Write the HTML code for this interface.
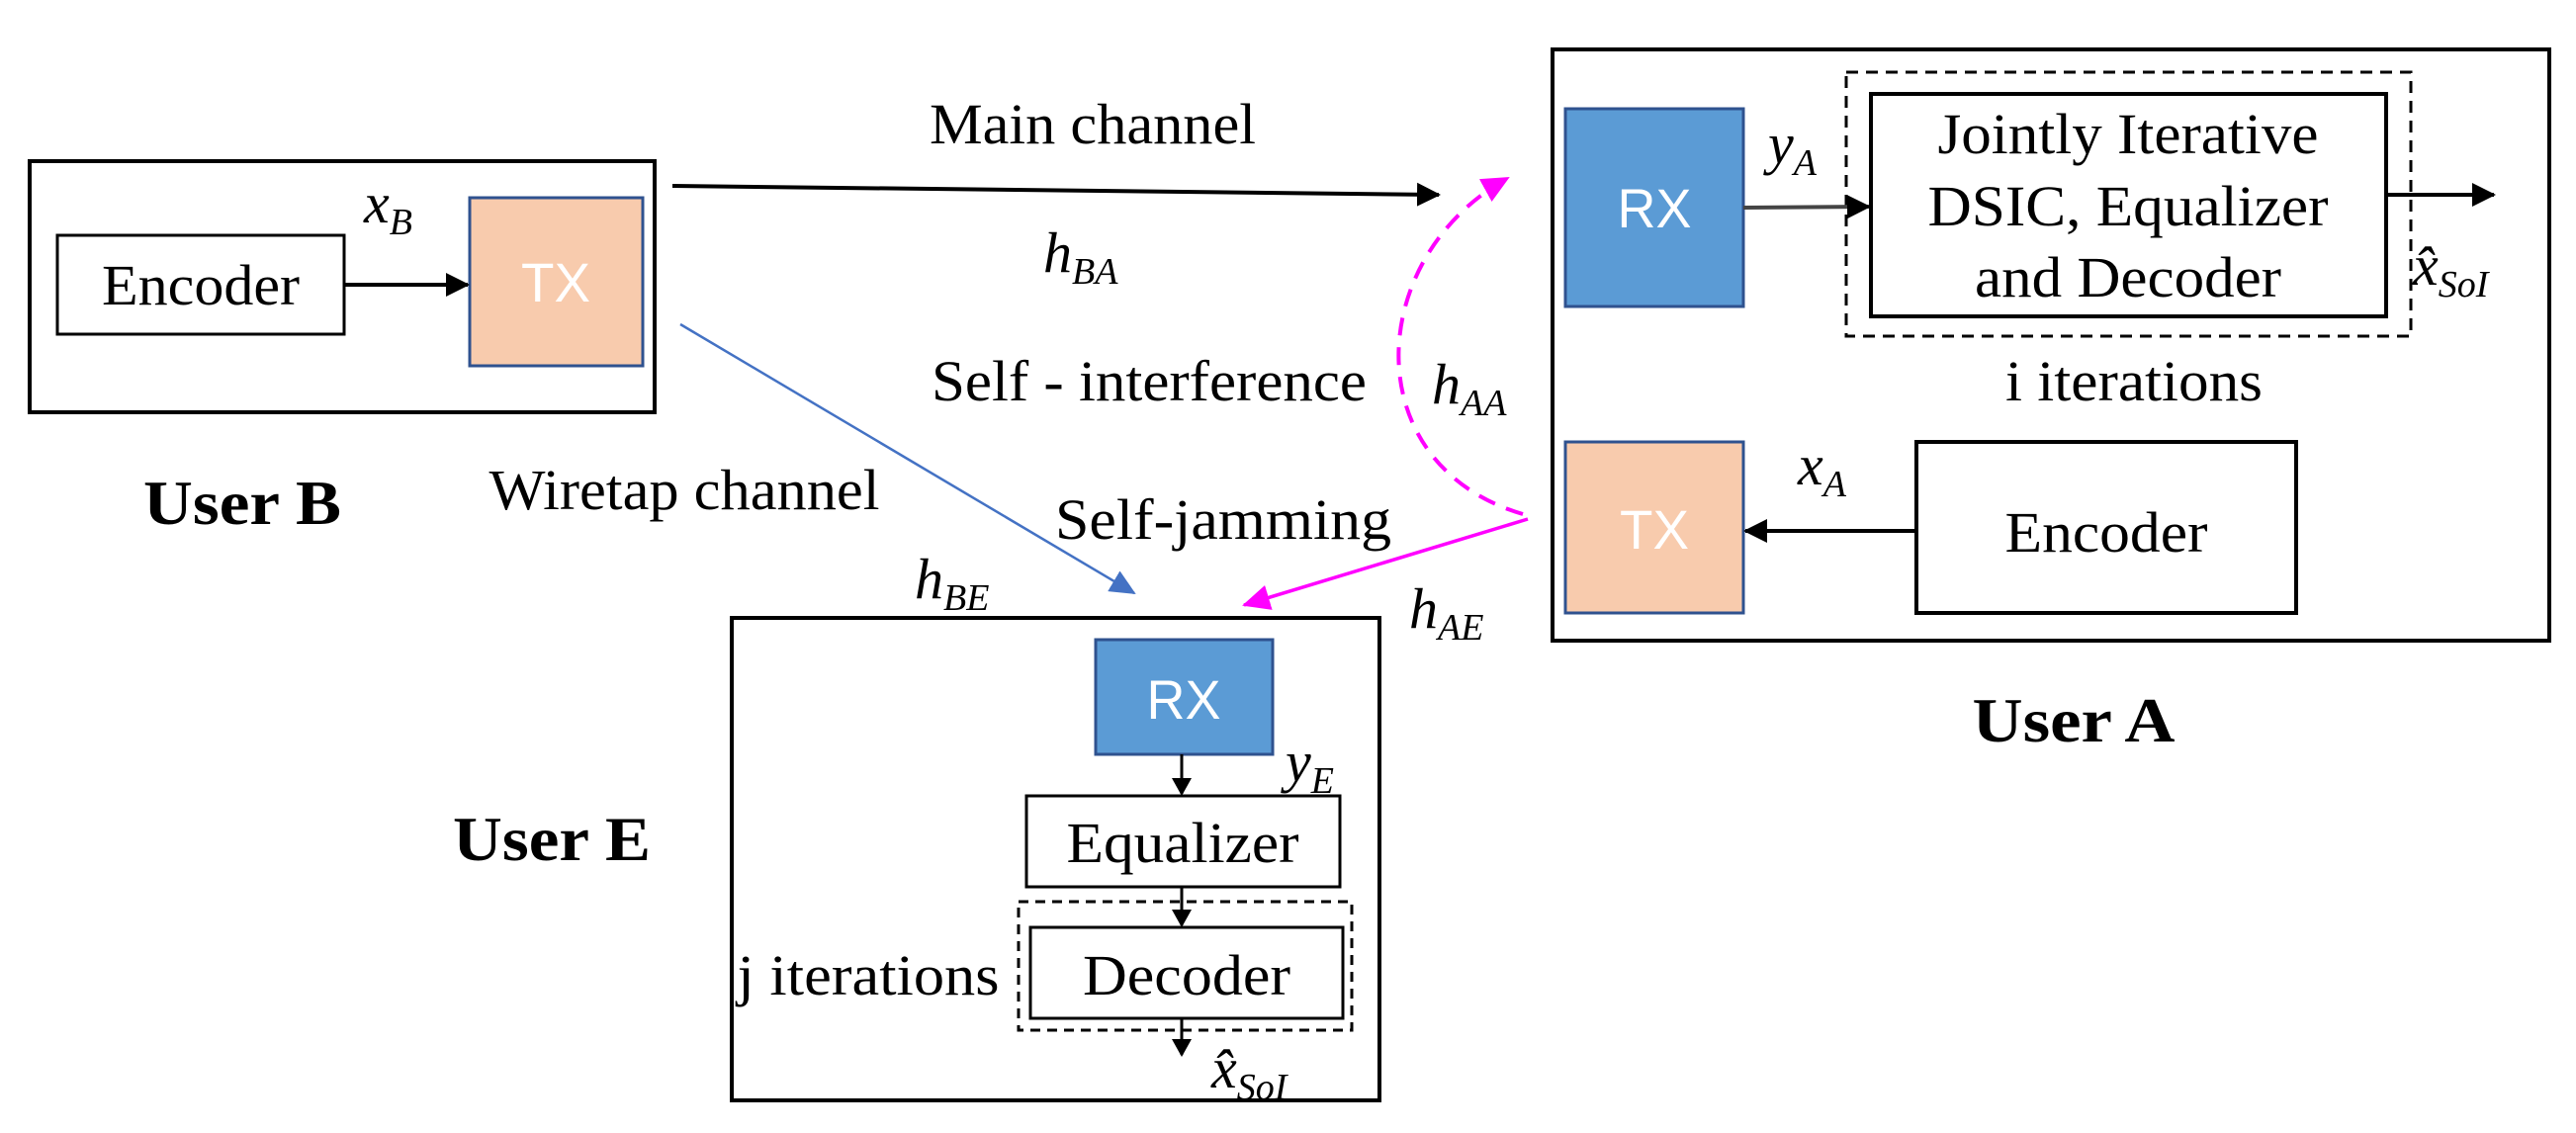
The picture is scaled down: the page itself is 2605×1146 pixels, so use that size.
<!DOCTYPE html>
<html><head><meta charset="utf-8"><style>
html,body{margin:0;padding:0;background:#fff;}
svg{display:block;}
text{font-family:"Liberation Serif",serif;fill:#000;}
.s{font-family:"Liberation Sans",sans-serif;fill:#fff;}
</style></head><body>
<svg width="2605" height="1146" viewBox="0 0 2605 1146" xmlns="http://www.w3.org/2000/svg">
<defs>
<marker id="ak" markerWidth="18" markerHeight="20" refX="16" refY="10" orient="auto" markerUnits="userSpaceOnUse"><path d="M0,0 L18,10 L0,20 z" fill="#000"/></marker>
<marker id="akb" markerWidth="24" markerHeight="24" refX="22" refY="12" orient="auto" markerUnits="userSpaceOnUse"><path d="M0,0 L24,12 L0,24 z" fill="#000"/></marker>
<marker id="ab" markerWidth="26" markerHeight="24" refX="24" refY="12" orient="auto" markerUnits="userSpaceOnUse"><path d="M0,0 L26,12 L0,24 z" fill="#4472c4"/></marker>
<marker id="ap" markerWidth="28" markerHeight="26" refX="26" refY="13" orient="auto" markerUnits="userSpaceOnUse"><path d="M0,0 L28,13 L0,26 z" fill="#ff00ff"/></marker>
</defs>
<g font-size="58">
<!-- User B -->
<rect x="30" y="163" width="632" height="254" fill="none" stroke="#000" stroke-width="4"/>
<rect x="58" y="238" width="290" height="100" fill="none" stroke="#000" stroke-width="3"/>
<text x="203" y="308" text-anchor="middle" textLength="200" lengthAdjust="spacingAndGlyphs">Encoder</text>
<rect x="475" y="200" width="175" height="170" fill="#f8cbad" stroke="#2f528f" stroke-width="3"/>
<text class="s" x="562" y="305" text-anchor="middle" font-size="56" textLength="70" lengthAdjust="spacingAndGlyphs">TX</text>
<line x1="348" y1="288" x2="473" y2="288" stroke="#000" stroke-width="4" marker-end="url(#akb)"/>
<text x="368" y="225" font-style="italic">x<tspan font-size="38" dy="12">B</tspan></text>
<text x="245" y="530" text-anchor="middle" font-weight="bold" font-size="64" textLength="200" lengthAdjust="spacingAndGlyphs">User B</text>

<!-- main channel -->
<line x1="680" y1="188" x2="1455" y2="197" stroke="#000" stroke-width="4" marker-end="url(#akb)"/>
<text x="1105" y="145" text-anchor="middle" textLength="330" lengthAdjust="spacingAndGlyphs">Main channel</text>
<text x="1055" y="275" font-style="italic">h<tspan font-size="38" dy="12">BA</tspan></text>

<!-- wiretap -->
<line x1="688" y1="328" x2="1147" y2="600" stroke="#4472c4" stroke-width="2.5" marker-end="url(#ab)"/>
<text x="692" y="515" text-anchor="middle" textLength="395" lengthAdjust="spacingAndGlyphs">Wiretap channel</text>
<text x="925" y="605" font-style="italic">h<tspan font-size="38" dy="12">BE</tspan></text>

<!-- self interference -->
<path d="M1540,520 C1370,470 1380,260 1525,180" fill="none" stroke="#ff00ff" stroke-width="4" stroke-dasharray="18,12" marker-end="url(#ap)"/>
<text x="1162" y="405" text-anchor="middle" textLength="440" lengthAdjust="spacingAndGlyphs">Self - interference</text>
<text x="1448" y="408" font-style="italic">h<tspan font-size="38" dy="12">AA</tspan></text>

<!-- self jamming -->
<line x1="1545" y1="525" x2="1258" y2="612" stroke="#ff00ff" stroke-width="3.5" marker-end="url(#ap)"/>
<text x="1237" y="545" text-anchor="middle" textLength="340" lengthAdjust="spacingAndGlyphs">Self-jamming</text>
<text x="1425" y="635" font-style="italic">h<tspan font-size="38" dy="12">AE</tspan></text>

<!-- User A -->
<rect x="1570" y="50" width="1008" height="598" fill="none" stroke="#000" stroke-width="4"/>
<rect x="1583" y="110" width="180" height="200" fill="#5b9bd5" stroke="#2f528f" stroke-width="3"/>
<text class="s" x="1673" y="230" text-anchor="middle" font-size="56" textLength="75" lengthAdjust="spacingAndGlyphs">RX</text>
<rect x="1867" y="73" width="571" height="267" fill="none" stroke="#000" stroke-width="3" stroke-dasharray="12,8"/>
<rect x="1892" y="95" width="521" height="225" fill="none" stroke="#000" stroke-width="4"/>
<text x="2152" y="155" text-anchor="middle" textLength="385" lengthAdjust="spacingAndGlyphs">Jointly Iterative</text>
<text x="2152" y="228" text-anchor="middle" textLength="405" lengthAdjust="spacingAndGlyphs">DSIC, Equalizer</text>
<text x="2152" y="300" text-anchor="middle" textLength="310" lengthAdjust="spacingAndGlyphs">and Decoder</text>
<line x1="1763" y1="210" x2="1890" y2="209" stroke="#444" stroke-width="4" marker-end="url(#akb)"/>
<text x="1788" y="165" font-style="italic">y<tspan font-size="38" dy="12">A</tspan></text>
<line x1="2413" y1="197" x2="2522" y2="197" stroke="#000" stroke-width="4" marker-end="url(#akb)"/>
<text x="2440" y="288" font-style="italic">x̂<tspan font-size="38" dy="12">SoI</tspan></text>
<text x="2158" y="405" text-anchor="middle" textLength="260" lengthAdjust="spacingAndGlyphs">i iterations</text>
<rect x="1583" y="447" width="180" height="173" fill="#f8cbad" stroke="#2f528f" stroke-width="3"/>
<text class="s" x="1673" y="555" text-anchor="middle" font-size="56" textLength="70" lengthAdjust="spacingAndGlyphs">TX</text>
<rect x="1938" y="447" width="384" height="173" fill="none" stroke="#000" stroke-width="4"/>
<text x="2130" y="558" text-anchor="middle" textLength="205" lengthAdjust="spacingAndGlyphs">Encoder</text>
<line x1="1938" y1="537" x2="1765" y2="537" stroke="#000" stroke-width="4" marker-end="url(#akb)"/>
<text x="1818" y="490" font-style="italic">x<tspan font-size="38" dy="12">A</tspan></text>
<text x="2097" y="750" text-anchor="middle" font-weight="bold" font-size="64" textLength="205" lengthAdjust="spacingAndGlyphs">User A</text>

<!-- User E -->
<rect x="740" y="625" width="655" height="488" fill="none" stroke="#000" stroke-width="4"/>
<rect x="1108" y="647" width="179" height="116" fill="#5b9bd5" stroke="#2f528f" stroke-width="3"/>
<text class="s" x="1197" y="727" text-anchor="middle" font-size="56" textLength="75" lengthAdjust="spacingAndGlyphs">RX</text>
<line x1="1195" y1="763" x2="1195" y2="803" stroke="#000" stroke-width="3" marker-end="url(#ak)"/>
<text x="1300" y="790" font-style="italic">y<tspan font-size="38" dy="12">E</tspan></text>
<rect x="1038" y="805" width="317" height="92" fill="none" stroke="#000" stroke-width="3"/>
<text x="1196" y="872" text-anchor="middle" textLength="235" lengthAdjust="spacingAndGlyphs">Equalizer</text>
<line x1="1195" y1="897" x2="1195" y2="936" stroke="#000" stroke-width="3" marker-end="url(#ak)"/>
<rect x="1030" y="912" width="337" height="130" fill="none" stroke="#000" stroke-width="3" stroke-dasharray="10,7"/>
<rect x="1042" y="938" width="316" height="92" fill="none" stroke="#000" stroke-width="3"/>
<text x="1200" y="1006" text-anchor="middle" textLength="210" lengthAdjust="spacingAndGlyphs">Decoder</text>
<line x1="1195" y1="1030" x2="1195" y2="1067" stroke="#000" stroke-width="3" marker-end="url(#ak)"/>
<text x="1225" y="1100" font-style="italic">x̂<tspan font-size="38" dy="12">SoI</tspan></text>
<text x="878" y="1006" text-anchor="middle" textLength="265" lengthAdjust="spacingAndGlyphs">j iterations</text>
<text x="558" y="870" text-anchor="middle" font-weight="bold" font-size="64" textLength="200" lengthAdjust="spacingAndGlyphs">User E</text>
</g>
</svg>
</body></html>
